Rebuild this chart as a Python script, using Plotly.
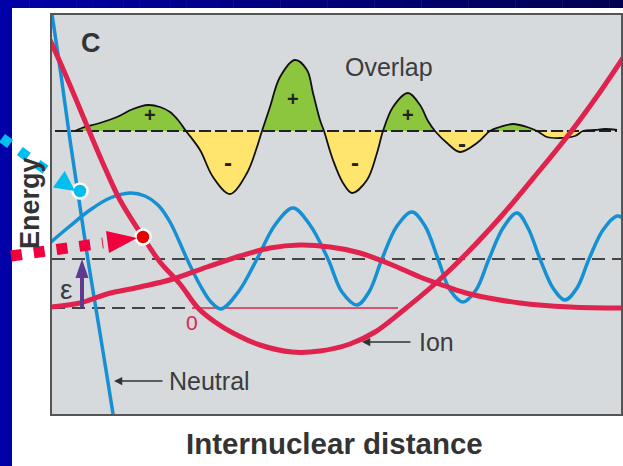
import plotly.graph_objects as go

# ---------------- data ----------------
# x : internuclear distance (arbitrary units), E : energy (arbitrary units, 0 = ion asymptote)
neutral_x = [2, 11, 20, 29, 38, 47, 56, 64]
neutral_E = [294, 233, 168, 108, 48, -7, -62, -112]

ion_x = [0, 10, 25, 40, 55, 70, 93, 110, 130, 148, 165, 183, 210, 242, 270, 300,
         325, 350, 387, 420, 455, 490, 520, 550, 573]
ion_E = [268, 246, 211, 175, 140, 108, 71, 46, 24, 0, -14, -25, -37, -44, -43, -36,
         -24, -5, 26, 58, 96, 138, 175, 216, 250]

ionwf_x = [0, 30, 57, 90, 123, 157, 190, 220, 250, 280, 310, 340, 370, 395, 420, 470, 520, 572]
ionwf_E = [1, 5, 14, 21, 29, 41, 52, 60, 63, 61, 55, 44, 31, 22, 14, 5, 1, 0]

wave_x = [1, 20, 40, 60, 80, 95, 108, 120, 137, 150,
          161, 171, 189, 207, 225, 243, 260, 278, 292, 307,
          319, 332, 347, 362, 375, 388, 400, 413, 426, 439,
          453, 467, 478, 490, 503, 515, 527, 539, 553, 567, 573]
wave_E = [66, 82, 98, 110, 115, 112, 103, 86, 49, 23,
          6, -1, 17, 49, 83, 100, 83, 49, 16, 3,
          16, 49, 82, 96, 82, 49, 18, 6, 18, 49,
          80, 95, 80, 49, 20, 8, 20, 49, 78, 92, 90]

overlap_x = [25, 32, 50, 67, 83, 98, 110, 120, 128, 136,
             150, 163, 180, 197, 207, 212, 220, 230, 245, 257,
             263, 270, 274, 283, 293, 302, 317, 327, 333, 343,
             358, 370, 378, 385, 397, 410, 427, 440, 450, 463,
             477, 487, 497, 510, 525, 533, 545, 555, 567]
overlap_E = [177, 180, 185, 191, 199, 203, 201, 196, 188, 177,
             158, 131, 114, 135, 161, 177, 201, 231, 248, 238,
             215, 188, 177, 148, 125, 115, 128, 155, 177, 201,
             215, 203, 187, 177, 165, 156, 165, 177, 181, 184,
             181, 177, 171, 170, 172, 177, 178, 179, 178]
overlap_baseline = 177
overlap_span = [5, 567]

upper_level = 49
upper_span = [2, 571]
lower_level = 0
lower_dash_span = [2, 142]
lower_red_span = [142, 348]

eps_x = 32                      # position of the epsilon arrow
crossings_x = [30, 93]          # marked points (neutral / ion)
crossings_E = [117, 71]

plus_x = [100, 243, 358]
plus_E = [193, 209, 193]
minus_x = [178, 305, 412]
minus_E = [146, 146, 165]

X_RANGE = [1, 572]
E_RANGE = [-107, 294]

# ---------------- styles ----------------
BLUE = '#1590d2'
RED = '#e0234e'
GREEN = '#8cc63f'
YELLOW = '#ffe46e'
PURPLE = '#5f3b8f'
TXT = '#3c3c3c'
FONT = 'Liberation Sans, Arial, sans-serif'

W, H = 623, 466
ML, MR, MT, MB = 51, 1, 14, 51
PW, PH = W - ML - MR, H - MT - MB


def pxx(px):
    return (px - ML) / PW


def pxy(py):
    return (H - MB - py) / PH


fig = go.Figure()

# overlap lobes (filled)
idx = [i for i, e in enumerate(overlap_E) if e == overlap_baseline]
for a, b in zip(idx[:-1], idx[1:]):
    xs = overlap_x[a:b + 1]
    es = overlap_E[a:b + 1]
    positive = sum(e - overlap_baseline for e in es) > 0
    fig.add_trace(go.Scatter(x=xs, y=es, mode='lines',
                             line=dict(width=0, shape='spline', color=GREEN),
                             fill='toself', fillcolor=GREEN if positive else YELLOW,
                             hoverinfo='skip', showlegend=False))

# overlap baseline
fig.add_trace(go.Scatter(x=overlap_span, y=[overlap_baseline] * 2, mode='lines',
                         line=dict(color='#222222', width=2, dash='12px,4px'),
                         hoverinfo='skip', showlegend=False))
# overlap outline
fig.add_trace(go.Scatter(x=overlap_x, y=overlap_E, mode='lines',
                         line=dict(color='#111111', width=1.8, shape='spline'),
                         hoverinfo='skip', showlegend=False))

# energy levels
fig.add_trace(go.Scatter(x=upper_span, y=[upper_level] * 2, mode='lines',
                         line=dict(color='#444444', width=2, dash='13px,7px'),
                         hoverinfo='skip', showlegend=False))
fig.add_trace(go.Scatter(x=lower_dash_span, y=[lower_level] * 2, mode='lines',
                         line=dict(color='#444444', width=2, dash='13px,7px'),
                         hoverinfo='skip', showlegend=False))
fig.add_trace(go.Scatter(x=lower_red_span, y=[lower_level] * 2, mode='lines',
                         line=dict(color=RED, width=1.5),
                         hoverinfo='skip', showlegend=False))

# neutral wavefunction and neutral potential
fig.add_trace(go.Scatter(x=wave_x, y=wave_E, mode='lines',
                         line=dict(color=BLUE, width=3.5, shape='spline'),
                         hoverinfo='skip', showlegend=False))
fig.add_trace(go.Scatter(x=neutral_x, y=neutral_E, mode='lines',
                         line=dict(color=BLUE, width=3.5, shape='spline'),
                         hoverinfo='skip', showlegend=False))

# ion wavefunction and ion potential
fig.add_trace(go.Scatter(x=ionwf_x, y=ionwf_E, mode='lines',
                         line=dict(color=RED, width=5, shape='spline'),
                         hoverinfo='skip', showlegend=False))
fig.add_trace(go.Scatter(x=ion_x, y=ion_E, mode='lines',
                         line=dict(color=RED, width=5, shape='spline'),
                         hoverinfo='skip', showlegend=False))

# epsilon arrow (purple)
fig.add_trace(go.Scatter(x=[eps_x, eps_x], y=[lower_level + 1, upper_level - 18], mode='lines',
                         line=dict(color=PURPLE, width=4),
                         hoverinfo='skip', showlegend=False))

# marked crossing points
fig.add_trace(go.Scatter(x=crossings_x, y=crossings_E, mode='markers',
                         marker=dict(size=15, color=['#00bef0', '#e60000'],
                                     line=dict(color='white', width=2.5)),
                         hoverinfo='skip', showlegend=False))

shapes = []
# background slide strips
shapes.append(dict(type='rect', xref='paper', yref='paper', x0=pxx(-2), x1=pxx(12),
                   y0=pxy(H + 2), y1=pxy(-2), fillcolor='#0000a8', line=dict(width=0),
                   layer='below'))
n = 40
for i in range(n):
    t = i / (n - 1)
    b = int(168 - 88 * t)
    x0 = -2 + (W + 4) * i / n
    x1 = -2 + (W + 4) * (i + 1) / n + 0.5
    shapes.append(dict(type='rect', xref='paper', yref='paper', x0=pxx(x0), x1=pxx(x1),
                       y0=pxy(8), y1=pxy(-2), fillcolor='rgb(0,0,%d)' % b,
                       line=dict(width=0), layer='below'))
# plot frame
shapes.append(dict(type='rect', xref='paper', yref='paper', x0=0, x1=1, y0=0, y1=1,
                   line=dict(color='#555555', width=2), layer='above'))
# epsilon arrow head
shapes.append(dict(type='path', xref='x', yref='y',
                   path='M %f,%f L %f,%f L %f,%f Z' % (eps_x - 6.5, upper_level - 19,
                                                       eps_x + 6.5, upper_level - 19,
                                                       eps_x, upper_level),
                   fillcolor=PURPLE, line=dict(width=0), layer='above'))
# cyan dotted arrow
shapes.append(dict(type='line', xref='paper', yref='paper',
                   x0=pxx(2), y0=pxy(138), x1=pxx(45.6), y1=pxy(169.8),
                   line=dict(color='#00bef0', width=10, dash='10px,12px'), layer='above'))
shapes.append(dict(type='path', xref='paper', yref='paper',
                   path='M %f,%f L %f,%f L %f,%f Z' % (pxx(75), pxy(191), pxx(52.9), pxy(187.5),
                                                       pxx(64.7), pxy(171)),
                   fillcolor='#00bef0', line=dict(width=0), layer='above'))
# red dotted arrow
shapes.append(dict(type='line', xref='paper', yref='paper',
                   x0=pxx(11), y0=pxy(256), x1=pxx(103), y1=pxy(243),
                   line=dict(color='#f0003c', width=11, dash='11px,12px'), layer='above'))
shapes.append(dict(type='path', xref='paper', yref='paper',
                   path='M %f,%f L %f,%f L %f,%f Z' % (pxx(137), pxy(238), pxx(109), pxy(253),
                                                       pxx(106), pxy(231)),
                   fillcolor='#f0003c', line=dict(width=0), layer='above'))

ann = []


def txt(x, y, s, size, color=TXT, bold=False, xanchor='center', **kw):
    d = dict(x=x, y=y, text=('<b>%s</b>' % s) if bold else s, showarrow=False,
             font=dict(family=kw.pop('family', FONT), size=size, color=color),
             xanchor=xanchor, yanchor='middle')
    d.update(kw)
    ann.append(d)


txt(41, 265, 'C', 27, color='#333333', bold=True)
txt(339, 241, 'Overlap', 25)
for x, y in zip(plus_x, plus_E):
    txt(x, y, '+', 20, color='#222222', bold=True)
for x, y in zip(minus_x, minus_E):
    txt(x, y, '-', 24, color='#222222', bold=True)
txt(16, 19, 'ε', 28)
txt(142, -14, '0', 21, color=RED)
txt(367, -34, 'Ion', 25, xanchor='left')
txt(117, -73, 'Neutral', 25, xanchor='left')
txt(pxx(30), pxy(203), 'Energy', 27, color='#333333', bold=True, xref='paper', yref='paper',
    textangle=-90)
txt(pxx(334.5), pxy(443), 'Internuclear distance', 29.5, color='#333333', bold=True,
    xref='paper', yref='paper')

# label arrows
for hx, hy in [(312, -34), (64, -73)]:
    ann.append(dict(x=hx, y=hy, ax=50, ay=0, text='', showarrow=True, arrowhead=2,
                    arrowsize=1.1, arrowwidth=1.5, arrowcolor='#333333'))

fig.update_layout(
    width=W, height=H,
    margin=dict(l=ML, r=MR, t=MT, b=MB, pad=0),
    paper_bgcolor='white', plot_bgcolor='#d6dadd',
    xaxis=dict(range=X_RANGE, visible=False, fixedrange=True),
    yaxis=dict(range=E_RANGE, visible=False, fixedrange=True),
    shapes=shapes, annotations=ann, showlegend=False,
)

fig.write_html('out.html', config={'displayModeBar': False},
               post_script="document.body.style.margin='0px';document.body.style.overflow='hidden';")
